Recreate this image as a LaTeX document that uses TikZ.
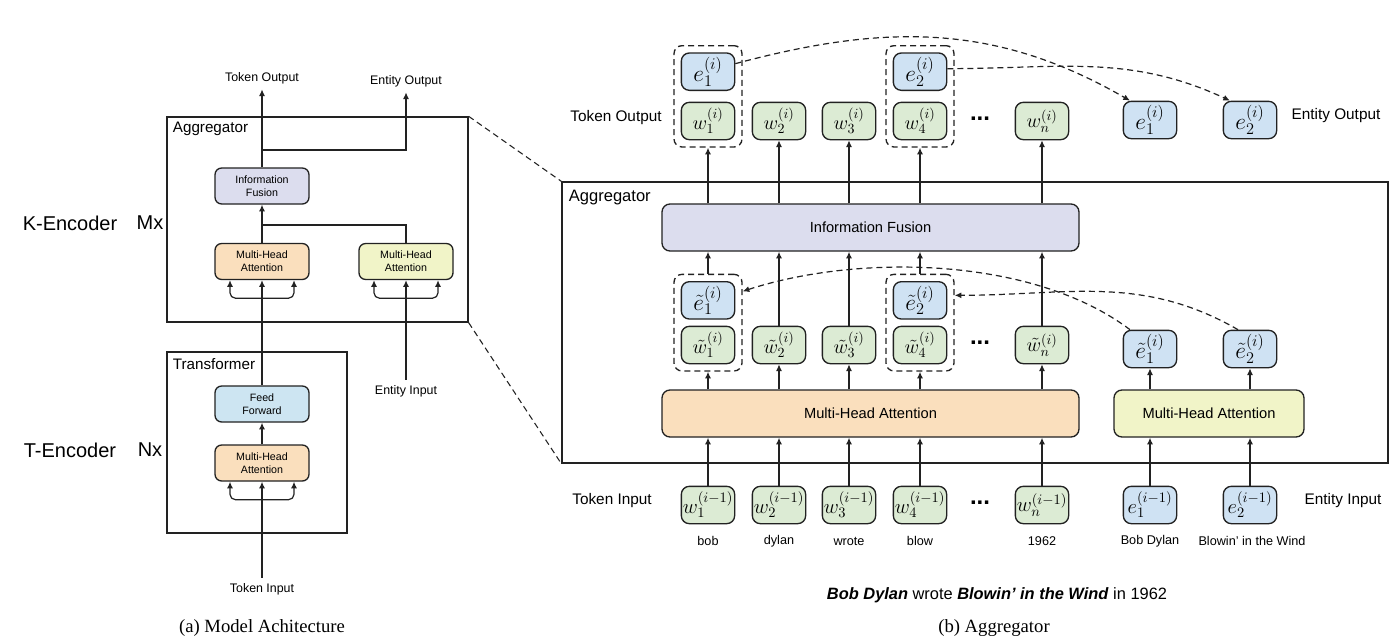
\RequirePackage{fix-cm}
\documentclass[tikz,border=0pt]{standalone}
\usepackage{fontspec}
\setmainfont{Liberation Serif}
\setsansfont{Liberation Sans}
\usepackage{tikz}
\usetikzlibrary{arrows.meta,positioning,fit,calc}
\definecolor{ink}{HTML}{222222}
\definecolor{tokgreen}{HTML}{DCEBD4}
\definecolor{entblue}{HTML}{CFE2F3}
\definecolor{peach}{HTML}{FADFBD}
\definecolor{lime}{HTML}{F1F4C8}
\definecolor{lavender}{HTML}{DCDDEE}
\definecolor{skyblue}{HTML}{CDE5F2}
\tikzset{
  tokbox/.style={
    rounded corners=6pt,draw=ink,fill=tokgreen,
    line width=1pt,minimum width=40pt,minimum height=28pt,
    inner sep=0pt,font=\fontsize{15}{17}\selectfont
  },
  entbox/.style={tokbox,fill=entblue,font=\fontsize{17.5}{19}\selectfont},
  inbox/.style={font=\fontsize{15.5}{17}\selectfont},
  layer/.style={
    rounded corners=6pt,draw=ink,line width=1pt,
    minimum height=35.25pt,font=\sffamily\fontsize{11}{13}\selectfont
  },
  minilayer/.style={
    rounded corners=5pt,draw=ink,line width=1pt,
    minimum width=70.5pt,minimum height=27pt,align=center,
    inner sep=1pt,font=\sffamily\fontsize{8}{9.5}\selectfont
  },
  frame/.style={draw=ink,line width=1pt,inner sep=0pt},
  group/.style={draw=ink,dash pattern=on 4.5pt off 3pt,line width=1pt,rounded corners=6pt,inner sep=5pt},
  wire/.style={draw=ink,line width=.9pt},
  arrow/.style={-{Latex[length=5pt,width=4.5pt]},draw=ink,line width=.9pt},
  link/.style={-{Latex[length=5pt,width=4.5pt]},draw=ink,dash pattern=on 4.5pt off 3pt,line width=.9pt},
  zoomline/.style={draw=ink,dash pattern=on 4.5pt off 3pt,line width=.8pt},
  lbl/.style={font=\sffamily\fontsize{11.5}{13}\selectfont,inner sep=1pt},
  smalllbl/.style={font=\sffamily\fontsize{9.3}{11}\selectfont,inner sep=4pt},
  word/.style={font=\sffamily\fontsize{9.5}{11}\selectfont,inner sep=1pt},
  enc/.style={font=\sffamily\fontsize{15}{17}\selectfont},
  caption/.style={font=\rmfamily\fontsize{14}{16}\selectfont},
  dots/.style={font=\sffamily\fontsize{18}{18}\bfseries\selectfont}
}
\newcommand{\forkin}[1]{%
  \draw[arrow,rounded corners=4pt] ($(#1.south)+(0,18)$) -| ($(#1.south)+(-32,0)$);
  \draw[arrow,rounded corners=4pt] ($(#1.south)+(0,18)$) -| ($(#1.south)+(32,0)$);}

\begin{document}
\begin{tikzpicture}[x=0.75pt,y=-0.75pt]
\path[use as bounding box,fill=white] (0,0) rectangle (1400,643);

% (a) model architecture
\node[frame,minimum width=225.75pt,minimum height=153.75pt] (aggA) at (317.5,219.5) {};
\node[lbl,font=\sffamily\fontsize{11.4}{13}\selectfont,anchor=west] (aggAname) at ($(aggA.north west)+(5,13)$) {Aggregator};
\node[frame,minimum width=135pt,minimum height=135.75pt] (trA) at (257,442.5) {};
\node[lbl,font=\sffamily\fontsize{11.4}{13}\selectfont,anchor=west] (trAname) at ($(trA.north west)+(5,13)$) {Transformer};
\node[minilayer,fill=lavender] (fusA) at (262,186) {Information\\Fusion};
\node[minilayer,fill=peach] (mhaA) at (262,261.5) {Multi-Head\\Attention};
\node[minilayer,fill=lime] (mhaE) at (406,261.5) {Multi-Head\\Attention};
\node[minilayer,fill=skyblue] (ffA) at (262,404) {Feed\\Forward};
\node[minilayer,fill=peach] (mhaT) at (262,463) {Multi-Head\\Attention};
\node[smalllbl] (tokOutA) at (262,78) {Token Output};
\node[smalllbl] (entOutA) at (406,81) {Entity Output};
\node[smalllbl] (entInA) at (406,391) {Entity Input};
\node[smalllbl] (tokInA) at (262,589) {Token Input};
\coordinate (splitA) at (262,150);
\coordinate (mergeA) at (262,225);
\node[enc] (kenc) at (70,223) {K-Encoder};
\node[enc] (kmx) at (150,223) {Mx};
\node[enc] (tenc) at (70,450) {T-Encoder};
\node[enc] (tnx) at (150,450) {Nx};
\node[caption] (capA) at (262,628) {(a) Model Achitecture};

\draw[arrow] (fusA.north) -- (tokOutA.south);
\draw[arrow] (splitA) -| (entOutA.south);
\draw[arrow] (mhaA) -- (fusA);
\draw[wire] (mhaE.north) |- (mergeA);
\draw[arrow] (ffA) -- (mhaA);
\draw[arrow] (mhaT) -- (ffA);
\draw[arrow] (tokInA) -- (mhaT);
\draw[arrow] (entInA) -- (mhaE);
\forkin{mhaA}
\forkin{mhaE}
\forkin{mhaT}

% (b) aggregator
\node[frame,minimum width=619.5pt,minimum height=210.75pt] (aggB) at (975,322.5) {};
\node[lbl,font=\sffamily\fontsize{12.4}{14}\selectfont,anchor=west] (aggBname) at ($(aggB.north west)+(6,16)$) {Aggregator};
\draw[zoomline] (aggA.north east) -- (aggB.north west);
\draw[zoomline] (aggA.south east) -- (aggB.south west);
\node[layer,fill=lavender,minimum width=312.75pt] (fusB) at (870.5,227.5) {Information Fusion};
\node[layer,fill=peach,minimum width=312.75pt] (mhaB) at (870.5,413.5) {Multi-Head Attention};
\node[layer,fill=lime,minimum width=142.5pt] (mhaBE) at (1209,413.5) {Multi-Head Attention};

% inputs
\node[tokbox,inbox] (wi1) at (708,505) {$w_1^{(i-1)}$};
\node[tokbox,inbox] (wi2) at (779,505) {$w_2^{(i-1)}$};
\node[tokbox,inbox] (wi3) at (849,505) {$w_3^{(i-1)}$};
\node[tokbox,inbox] (wi4) at (920,505) {$w_4^{(i-1)}$};
\node[tokbox,inbox] (win) at (1042,505) {$w_n^{(i-1)}$};
\node[entbox,inbox] (ei1) at (1150,505) {$e_1^{(i-1)}$};
\node[entbox,inbox] (ei2) at (1250,505) {$e_2^{(i-1)}$};
\node[dots] (dotsI) at (980,503) {...};
\node[word] (word1) at (708,541) {bob};
\node[word] (word2) at (779,541) {dylan};
\node[word] (word3) at (849,541) {wrote};
\node[word] (word4) at (920,541) {blow};
\node[word] (wordn) at (1042,541) {1962};
\node[word] (worde1) at (1150,541) {Bob Dylan};
\node[word] (worde2) at (1252,541) {Blowin’ in the Wind};
\node[lbl] (tokInB) at (612,501) {Token Input};
\node[lbl] (entInB) at (1343,501) {Entity Input};

% after attention
\node[tokbox] (wt1) at (708,345) {$\tilde{w}_1^{(i)}$};
\node[tokbox] (wt2) at (779,345) {$\tilde{w}_2^{(i)}$};
\node[tokbox] (wt3) at (849,345) {$\tilde{w}_3^{(i)}$};
\node[tokbox] (wt4) at (920,345) {$\tilde{w}_4^{(i)}$};
\node[tokbox] (wtn) at (1042,345) {$\tilde{w}_n^{(i)}$};
\node[entbox,above=4.5pt of wt1] (et1) {$\tilde{e}_1^{(i)}$};
\node[entbox,above=4.5pt of wt4] (et2) {$\tilde{e}_2^{(i)}$};
\node[group,fit=(et1)(wt1)] (gt1) {};
\node[group,fit=(et2)(wt4)] (gt2) {};
\node[entbox] (etE1) at (1150,349) {$\tilde{e}_1^{(i)}$};
\node[entbox] (etE2) at (1250,349) {$\tilde{e}_2^{(i)}$};
\node[dots] (dotsT) at (980,343) {...};

% outputs
\node[tokbox] (wo1) at (708,121) {$w_1^{(i)}$};
\node[tokbox] (wo2) at (779,121) {$w_2^{(i)}$};
\node[tokbox] (wo3) at (849,121) {$w_3^{(i)}$};
\node[tokbox] (wo4) at (920,121) {$w_4^{(i)}$};
\node[tokbox] (won) at (1042,121) {$w_n^{(i)}$};
\node[entbox,above=8pt of wo1] (eo1) {$e_1^{(i)}$};
\node[entbox,above=8pt of wo4] (eo2) {$e_2^{(i)}$};
\node[group,fit=(eo1)(wo1)] (go1) {};
\node[group,fit=(eo2)(wo4)] (go2) {};
\node[entbox] (eoE1) at (1150,120) {$e_1^{(i)}$};
\node[entbox] (eoE2) at (1250,120) {$e_2^{(i)}$};
\node[dots] (dotsO) at (980,119) {...};
\node[lbl] (tokOutB) at (616,118) {Token Output};
\node[lbl] (entOutB) at (1336,116) {Entity Output};

\node[font=\sffamily\fontsize{12.3}{14}\selectfont] (sent) at (997,595)
{\textbf{\textit{Bob Dylan}} wrote \textbf{\textit{Blowin’ in the Wind}} in 1962};
\node[caption] (capB) at (994,628) {(b) Aggregator};

\draw[arrow] (wi1) -- (wi1 |- mhaB.south);
\draw[arrow] (wi2) -- (wi2 |- mhaB.south);
\draw[arrow] (wi3) -- (wi3 |- mhaB.south);
\draw[arrow] (wi4) -- (wi4 |- mhaB.south);
\draw[arrow] (win) -- (win |- mhaB.south);
\draw[arrow] (ei1) -- (ei1 |- mhaBE.south);
\draw[arrow] (ei2) -- (ei2 |- mhaBE.south);
\draw[arrow] (mhaB.north -| gt1) -- (gt1.south);
\draw[arrow] (mhaB.north -| wt2) -- (wt2);
\draw[arrow] (mhaB.north -| wt3) -- (wt3);
\draw[arrow] (mhaB.north -| gt2) -- (gt2.south);
\draw[arrow] (mhaB.north -| wtn) -- (wtn);
\draw[arrow] (mhaBE.north -| etE1) -- (etE1);
\draw[arrow] (mhaBE.north -| etE2) -- (etE2);
\draw[arrow] (gt1) -- (gt1 |- fusB.south);
\draw[arrow] (wt2) -- (wt2 |- fusB.south);
\draw[arrow] (wt3) -- (wt3 |- fusB.south);
\draw[arrow] (gt2) -- (gt2 |- fusB.south);
\draw[arrow] (wtn) -- (wtn |- fusB.south);
\draw[arrow] (fusB.north -| go1) -- (go1.south);
\draw[arrow] (fusB.north -| wo2) -- (wo2);
\draw[arrow] (fusB.north -| wo3) -- (wo3);
\draw[arrow] (fusB.north -| go2) -- (go2.south);
\draw[arrow] (fusB.north -| won) -- (won);

\draw[link] ($(eo1.east)+(0,-8)$) to[out=15,in=150] ($(eoE1.north)+(-20,0)$);
\draw[link] ($(eo2.east)+(0,-3)$) to[out=0,in=155] ($(eoE2.north)+(-20,0)$);
\draw[link] ($(etE1.north)+(-20,0)$) to[out=143,in=18,looseness=.8] ($(gt1.east |- et1)+(0,-9)$);
\draw[link] ($(etE2.north)+(-12,0)$) to[out=150,in=0] ($(gt2.east |- et2)+(0,-5)$);
\end{tikzpicture}
\end{document}
